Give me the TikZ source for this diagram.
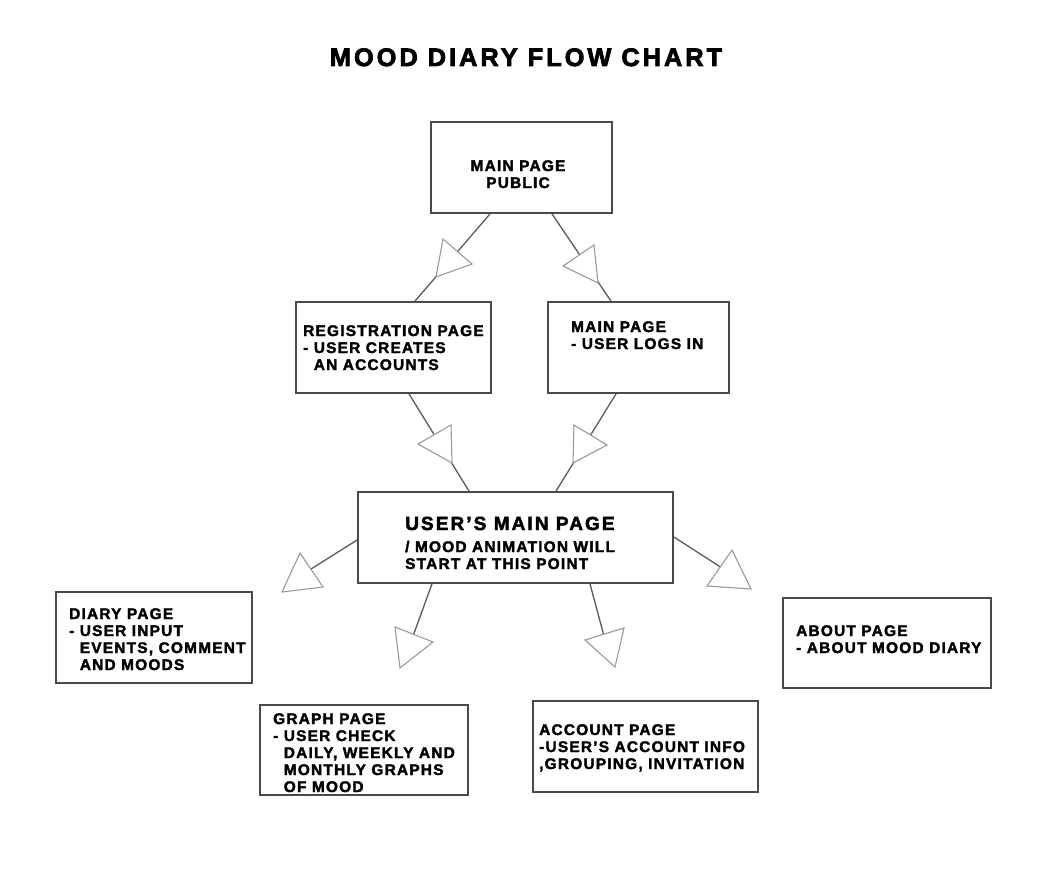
\documentclass[tikz,border=0pt]{standalone}
\usepackage{fontspec}
\setmainfont{Liberation Sans}
\newfontfamily\bodyfont[LetterSpace=8,FakeBold=2.2]{Liberation Sans Bold}
\newfontfamily\headfont[LetterSpace=11,FakeBold=2.5]{Liberation Sans Bold}
\newfontfamily\titlefont[LetterSpace=12,FakeBold=3]{Liberation Sans Bold}
\definecolor{boxgray}{HTML}{4A4A4A}
\definecolor{linegray}{HTML}{5A5A5A}
\definecolor{trigray}{HTML}{9A9A9A}
\tikzset{
  pagebox/.style={draw=boxgray, line width=1.8pt, rectangle, inner sep=0pt},
  txt/.style={anchor=base west, inner sep=0pt, align=left, font=\bodyfont\fontsize{15.4}{17}\selectfont},
  conn/.style={draw=linegray, line width=1.3pt},
  tri/.style={draw=trigray, fill=white, line width=1.1pt, line join=miter}
}
\begin{document}
\begin{tikzpicture}[x=1pt,y=-1pt]
\useasboundingbox (0,0) rectangle (1046,872);
% title
\node[anchor=base, inner sep=0pt, font=\titlefont\fontsize{25.3}{28}\selectfont] (title) at (526,66) {MOOD DIARY FLOW CHART};
% boxes
\node[pagebox, minimum width=181, minimum height=91] (mp) at (521.5,167.5) {};
\node[pagebox, minimum width=195, minimum height=91] (reg) at (393.5,347.5) {};
\node[pagebox, minimum width=181, minimum height=91] (login) at (638.5,347.5) {};
\node[pagebox, minimum width=315, minimum height=91] (ump) at (515.5,537.5) {};
\node[pagebox, minimum width=196, minimum height=91] (diary) at (154,637.5) {};
\node[pagebox, minimum width=208, minimum height=90] (graph) at (364,750) {};
\node[pagebox, minimum width=225, minimum height=91] (account) at (645.5,746.5) {};
\node[pagebox, minimum width=208, minimum height=90] (about) at (887,643) {};
% texts (anchor = baseline of the last line)
\node[txt, anchor=base, align=center] (tmp) at (518,188) {MAIN PAGE\\PUBLIC};
\node[txt] (treg) at (303,370) {REGISTRATION PAGE\\- USER CREATES\\\phantom{- }AN ACCOUNTS};
\node[txt] (tlogin) at (571,349) {MAIN PAGE\\- USER LOGS IN};
\node[txt, font=\headfont\fontsize{19}{22}\selectfont] (tump) at (405,530) {USER’S MAIN PAGE};
\node[txt] (tump2) at (405,569) {/ MOOD ANIMATION WILL\\START AT THIS POINT};
\node[txt] (tdiary) at (69,670) {DIARY PAGE\\- USER INPUT\\\phantom{- }EVENTS, COMMENT\\\phantom{- }AND MOODS};
\node[txt] (tgraph) at (273,792) {GRAPH PAGE\\- USER CHECK\\\phantom{- }DAILY, WEEKLY AND\\\phantom{- }MONTHLY GRAPHS\\\phantom{- }OF MOOD};
\node[txt] (taccount) at (539,769) {ACCOUNT PAGE\\-USER’S ACCOUNT INFO\\,GROUPING, INVITATION};
\node[txt] (tabout) at (796,653) {ABOUT PAGE\\- ABOUT MOOD DIARY};
% free ends
\coordinate (e5) at (311,569);
\coordinate (e6) at (413,636);
\coordinate (e7) at (604,636);
\coordinate (e8) at (722,568);
% connectors
\draw[conn] ([xshift=-31.5pt]mp.south) -- ([xshift=21.5pt]reg.north);
\draw[conn] ([xshift=30.5pt]mp.south) -- ([xshift=-27.5pt]login.north);
\draw[conn] ([xshift=15.5pt]reg.south) -- ([xshift=-46.5pt]ump.north);
\draw[conn] ([xshift=-22.5pt]login.south) -- ([xshift=40.5pt]ump.north);
\draw[conn] ([yshift=-2.5pt]ump.west) -- (e5);
\draw[conn] ([xshift=-83.5pt]ump.south) -- (e6);
\draw[conn] ([xshift=74.5pt]ump.south) -- (e7);
\draw[conn] ([yshift=0.5pt]ump.east) -- (e8);
% triangles
\draw[tri] (443,239) -- (472,264) -- (436,277) -- cycle;
\draw[tri] (563,266) -- (594,245) -- (598,283) -- cycle;
\draw[tri] (418,444) -- (451,425) -- (452,463) -- cycle;
\draw[tri] (574,425) -- (607,445) -- (573,463) -- cycle;
\draw[tri] (300,553) -- (323,587) -- (282,592) -- cycle;
\draw[tri] (395,627) -- (433,642) -- (400,668) -- cycle;
\draw[tri] (585,640) -- (624,628) -- (615,667) -- cycle;
\draw[tri] (732,550) -- (751,589) -- (707,586) -- cycle;
\end{tikzpicture}
\end{document}
